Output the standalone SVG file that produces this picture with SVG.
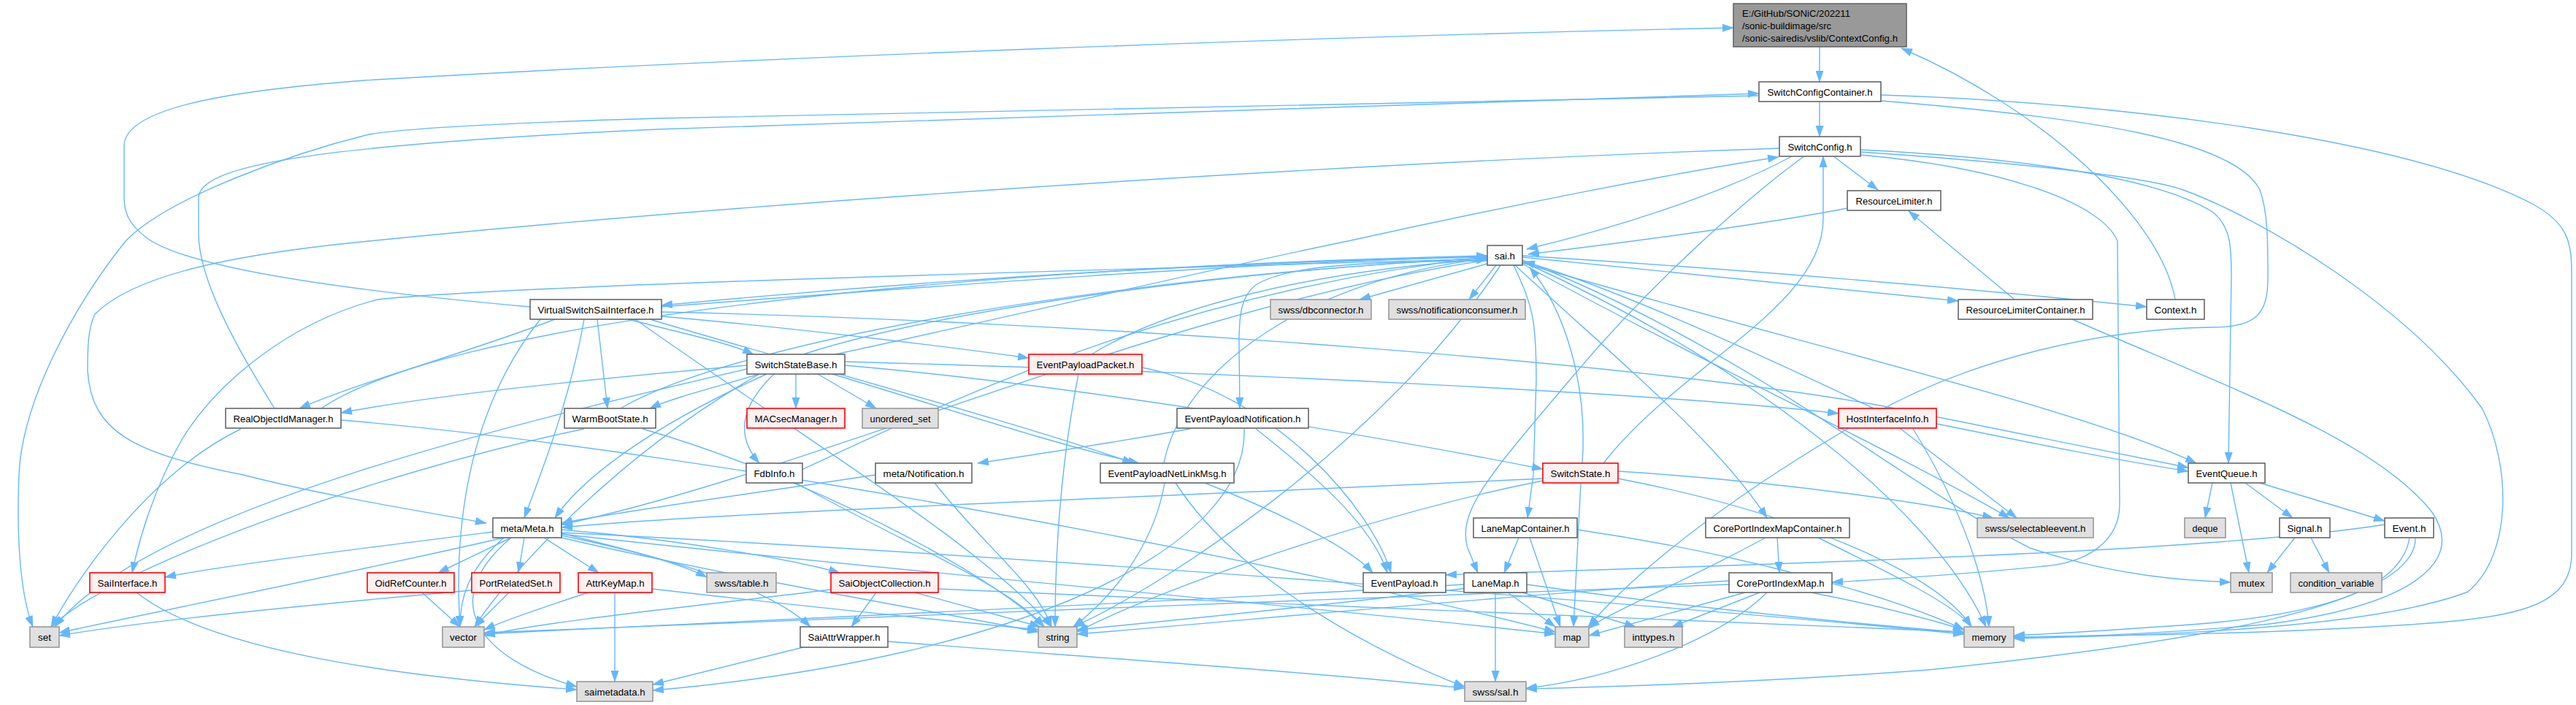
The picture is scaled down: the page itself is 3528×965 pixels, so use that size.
<svg xmlns="http://www.w3.org/2000/svg" width="3528" height="965" viewBox="0 0 3528 965">
<style>
.e{fill:none;stroke:#63b8ff;stroke-width:1.4;marker-end:url(#a)}
.w{fill:#fff;stroke:#666;stroke-width:1.6}
.g{fill:#e0e0e0;stroke:#999;stroke-width:1.6}
.r{fill:#fff0f0;stroke:#f00;stroke-width:1.6}
.k{fill:#999;stroke:#666;stroke-width:1.6}
text{font-family:"Liberation Sans",Arial,sans-serif;font-size:13.3px;fill:#000}
.m{text-anchor:middle}
</style>
<defs>
<marker id="a" markerWidth="16" markerHeight="11" refX="15" refY="5.5" orient="auto" markerUnits="userSpaceOnUse"><path d="M0,0 L16,5.5 L0,11 Z" fill="#63b8ff"/></marker>
</defs>
<rect width="3528" height="965" fill="#fff"/>
<g id="edges">
<path class="e" d="M2492,64 L2492,112"/>
<path class="e" d="M2492,139 L2492,187"/>
<path class="e" d="M2409,131 C1800,140 1200,155 900,162 C700,168 560,175 505,184 C400,210 230,270 172,330 C100,420 30,550 26,650 C22,750 30,820 45,858"/>
<path class="e" d="M2576,138 C2850,160 3060,190 3095,260 C3106,290 3106,330 3106,380 C3106,430 3090,448 3030,448 C2880,450 2700,490 2560,570 C2400,660 2250,770 2175,858"/>
<path class="e" d="M2576,130 C2900,140 3300,190 3470,280 C3515,305 3522,330 3522,370 L3522,760 C3520,830 3450,845 3300,855 C3100,868 2900,870 2758,872"/>
<path class="e" d="M2510,213 L2572,260"/>
<path class="e" d="M2456,213 C2350,270 2200,315 2091,341"/>
<path class="e" d="M2472,213 C2380,280 2250,400 2150,520 C2040,650 1995,700 2010,750 L2024,784"/>
<path class="e" d="M2548,205 C2750,215 2950,240 3030,290 C3056,310 3056,340 3056,380 L3052,634"/>
<path class="e" d="M2548,212 C2750,230 2880,280 2900,330 L2903,690 C2903,740 2860,770 2800,775 C2700,785 2600,792 2509,797"/>
<path class="e" d="M2548,208 C2800,225 2950,245 2990,260 C3100,300 3300,420 3400,560 C3440,640 3440,760 3380,810 C3250,860 2950,870 2758,874"/>
<path class="e" d="M2437,203 C1800,225 1000,280 505,330 C300,350 180,380 130,430 C120,450 120,480 120,507 C125,590 180,620 333,650 C450,680 580,700 666,716"/>
<path class="e" d="M2530,285 C2400,310 2200,335 2093,348"/>
<path class="e" d="M2759,410 L2614,289"/>
<path class="e" d="M2838,437 C3050,530 3250,600 3330,700 C3380,770 3300,830 3100,855 C2950,868 2830,872 2758,872"/>
<path class="e" d="M2979,410 C2960,300 2800,150 2604,66"/>
<path class="e" d="M726,420 C500,400 260,370 200,325 C175,305 170,290 170,270 L170,200 C170,150 300,125 500,110 C1000,80 1800,50 2374,38"/>
<path class="e" d="M376,559 C320,470 272,380 272,320 L272,270 C275,230 400,200 900,177 C1500,155 2100,135 2409,128"/>
<path class="e" d="M1144,485 C1400,430 1650,370 1846,330 C2050,285 2300,235 2436,215"/>
<path class="e" d="M2196,634 C2300,500 2497,420 2497,300 L2497,214"/>
<path class="e" d="M2167,634 C2175,520 2140,420 2095,366"/>
<path class="e" d="M2040,360 L1862,410"/>
<path class="e" d="M2049,363 L2012,410"/>
<path class="e" d="M2037,352 C1600,360 1200,390 906,418"/>
<path class="e" d="M2085,350 C2400,370 2700,395 2940,420"/>
<path class="e" d="M2085,352 C2300,375 2500,395 2682,412"/>
<path class="e" d="M2083,360 C2300,480 2600,620 2752,709"/>
<path class="e" d="M2075,363 C2200,480 2350,600 2420,709"/>
<path class="e" d="M2073,363 C2100,420 2104,440 2104,520 L2100,650 L2092,709"/>
<path class="e" d="M2037,357 C1850,358 1760,365 1720,390 C1700,405 1697,430 1697,470 L1698,559"/>
<path class="e" d="M2085,360 C2500,480 2850,560 3008,634"/>
<path class="e" d="M2037,356 C1600,420 1100,650 769,718"/>
<path class="e" d="M2037,354 C1500,370 700,390 517,410 C400,440 300,520 250,600 C210,670 190,740 181,784"/>
<path class="e" d="M2085,356 C2400,480 2600,660 2780,750 C2900,790 3000,795 3055,797"/>
<path class="e" d="M2055,363 C1900,600 1600,800 1470,858"/>
<path class="e" d="M2085,358 C2400,500 2650,700 2720,858"/>
<path class="e" d="M906,420 C1300,390 1700,360 2037,351"/>
<path class="e" d="M760,437 C650,480 500,520 410,559"/>
<path class="e" d="M818,437 L832,559"/>
<path class="e" d="M860,437 C950,460 1000,470 1032,485"/>
<path class="e" d="M906,433 C1100,450 1300,475 1409,490"/>
<path class="e" d="M890,437 C1100,500 1400,580 1552,634"/>
<path class="e" d="M800,437 C780,550 740,650 718,709"/>
<path class="e" d="M906,427 C1500,440 2300,500 2600,560 C2800,600 2900,620 2997,640"/>
<path class="e" d="M740,437 C650,550 620,700 630,858"/>
<path class="e" d="M870,437 C1100,600 1350,750 1440,858"/>
<path class="e" d="M1023,500 C800,520 600,540 467,565"/>
<path class="e" d="M1040,512 C980,530 920,545 890,559"/>
<path class="e" d="M1090,512 L1090,559"/>
<path class="e" d="M1120,512 L1200,559"/>
<path class="e" d="M1060,512 C1010,560 1010,600 1040,634"/>
<path class="e" d="M1140,512 C1300,560 1450,610 1560,634"/>
<path class="e" d="M1157,500 C1500,530 1900,600 2113,642"/>
<path class="e" d="M1157,495 C1700,510 2300,540 2518,566"/>
<path class="e" d="M1100,485 C1300,420 1700,370 2037,353"/>
<path class="e" d="M1050,512 C900,580 800,650 760,709"/>
<path class="e" d="M1040,512 C850,620 700,780 650,858"/>
<path class="e" d="M1023,505 C700,580 200,700 75,858"/>
<path class="e" d="M1495,485 C1600,420 1800,370 2037,355"/>
<path class="e" d="M1564,503 C1750,540 1880,700 1905,784"/>
<path class="e" d="M1477,512 C1450,650 1445,780 1445,858"/>
<path class="e" d="M1630,587 C1500,610 1400,625 1339,634"/>
<path class="e" d="M1720,587 C1800,650 1880,720 1900,784"/>
<path class="e" d="M1704,587 C1710,750 1400,900 894,945"/>
<path class="e" d="M1199,650 C1000,680 850,700 769,716"/>
<path class="e" d="M1280,661 C1350,750 1420,800 1440,858"/>
<path class="e" d="M1098,643 C1300,550 1600,400 2037,352"/>
<path class="e" d="M1090,661 C1250,750 1380,800 1430,858"/>
<path class="e" d="M1594,634 C1620,500 1800,380 2037,354"/>
<path class="e" d="M1650,661 C1750,700 1850,750 1880,784"/>
<path class="e" d="M1595,661 C1580,750 1520,820 1470,858"/>
<path class="e" d="M1610,661 C1700,800 1900,900 2006,940"/>
<path class="e" d="M2566,559 C2400,480 2200,390 2087,358"/>
<path class="e" d="M2652,580 C2800,610 2900,630 2997,645"/>
<path class="e" d="M2603,587 L2762,709"/>
<path class="e" d="M2620,587 C2690,700 2720,800 2724,858"/>
<path class="e" d="M2113,655 C1600,680 1000,700 769,722"/>
<path class="e" d="M2165,661 L2155,858"/>
<path class="e" d="M2113,658 C1900,700 1600,800 1475,865"/>
<path class="e" d="M2216,655 C2450,700 2650,780 2700,858"/>
<path class="e" d="M2216,645 C2450,660 2650,690 2730,709"/>
<path class="e" d="M3030,661 L3020,709"/>
<path class="e" d="M3055,661 L3080,784"/>
<path class="e" d="M3075,661 L3140,709"/>
<path class="e" d="M3095,661 L3266,713"/>
<path class="e" d="M3143,736 L3105,784"/>
<path class="e" d="M3165,736 L3190,784"/>
<path class="e" d="M3266,718 C3000,760 2300,775 1980,787"/>
<path class="e" d="M3300,736 C3290,800 3200,840 3000,855 C2900,862 2800,868 2758,870"/>
<path class="e" d="M3308,736 C3310,830 3000,880 2640,917 C2400,935 2200,940 2090,943"/>
<path class="e" d="M675,728 C500,750 300,775 226,790"/>
<path class="e" d="M700,736 L600,784"/>
<path class="e" d="M718,736 L710,784"/>
<path class="e" d="M745,736 L820,784"/>
<path class="e" d="M769,730 C850,750 930,770 968,790"/>
<path class="e" d="M769,725 C950,740 1100,770 1150,784"/>
<path class="e" d="M769,733 C900,760 1050,800 1110,858"/>
<path class="e" d="M690,736 C640,780 630,820 630,858"/>
<path class="e" d="M690,736 C500,780 200,840 81,866"/>
<path class="e" d="M769,736 C1000,790 1300,840 1422,865"/>
<path class="e" d="M769,731 C1200,780 1800,830 2130,868"/>
<path class="e" d="M769,729 C1400,760 2300,830 2690,868"/>
<path class="e" d="M700,736 C600,820 650,900 790,940"/>
<path class="e" d="M578,811 L630,858"/>
<path class="e" d="M697,811 L650,858"/>
<path class="e" d="M646,808 C400,830 200,850 81,870"/>
<path class="e" d="M805,811 C750,830 700,845 663,862"/>
<path class="e" d="M842,811 L842,933"/>
<path class="e" d="M893,806 C1100,830 1300,850 1422,862"/>
<path class="e" d="M1200,811 L1166,858"/>
<path class="e" d="M1253,811 L1425,858"/>
<path class="e" d="M1138,807 C950,830 750,850 663,870"/>
<path class="e" d="M1285,806 C1800,830 2400,850 2690,865"/>
<path class="e" d="M1216,878 C1500,900 1800,920 2006,942"/>
<path class="e" d="M1100,886 L894,937"/>
<path class="e" d="M187,811 C300,900 600,930 790,944"/>
<path class="e" d="M2080,736 L2060,784"/>
<path class="e" d="M2095,736 L2137,858"/>
<path class="e" d="M2160,725 C2400,760 2600,820 2690,862"/>
<path class="e" d="M2434,736 L2437,784"/>
<path class="e" d="M2418,736 C2300,800 2200,840 2176,860"/>
<path class="e" d="M2490,736 C2600,790 2680,830 2700,858"/>
<path class="e" d="M2065,811 L2130,858"/>
<path class="e" d="M2085,811 L2240,858"/>
<path class="e" d="M2048,811 L2048,933"/>
<path class="e" d="M2005,800 C1500,830 900,855 663,868"/>
<path class="e" d="M2010,805 C1800,830 1600,850 1475,862"/>
<path class="e" d="M2091,800 C2300,830 2500,850 2690,866"/>
<path class="e" d="M2390,811 L2176,870"/>
<path class="e" d="M2410,811 L2290,858"/>
<path class="e" d="M2420,811 C2350,880 2200,930 2090,942"/>
<path class="e" d="M2368,800 C1800,820 1100,850 663,866"/>
<path class="e" d="M2368,795 C2000,820 1700,850 1475,868"/>
<path class="e" d="M2480,811 C2580,830 2650,850 2690,862"/>
<path class="e" d="M440,559 C600,450 1200,370 2037,350"/>
<path class="e" d="M330,587 C200,650 100,800 70,858"/>
<path class="e" d="M467,575 C1000,620 1800,780 2130,865"/>
<path class="e" d="M850,559 C1000,470 1500,380 2037,353"/>
<path class="e" d="M800,587 C500,650 150,780 70,858"/>
<path class="e" d="M880,587 C1100,650 1350,780 1430,858"/>
</g>
<g id="n-ContextConfig"><rect class="k" x="2374" y="5" width="237" height="59"/><text x="2386" y="23" textLength="148" lengthAdjust="spacingAndGlyphs">E:/GitHub/SONiC/202211</text><text x="2386" y="40" textLength="122" lengthAdjust="spacingAndGlyphs">/sonic-buildimage/src</text><text x="2386" y="57" textLength="213" lengthAdjust="spacingAndGlyphs">/sonic-sairedis/vslib/ContextConfig.h</text></g>
<g id="n-SwitchConfigContainer"><rect class="w" x="2409" y="112" width="167" height="27"/><text class="m" x="2492.5" y="131" textLength="144" lengthAdjust="spacingAndGlyphs">SwitchConfigContainer.h</text></g>
<g id="n-SwitchConfig"><rect class="w" x="2437" y="187" width="111" height="27"/><text class="m" x="2492.5" y="206" textLength="88" lengthAdjust="spacingAndGlyphs">SwitchConfig.h</text></g>
<g id="n-ResourceLimiter"><rect class="w" x="2530" y="261" width="128" height="27"/><text class="m" x="2594" y="280" textLength="105" lengthAdjust="spacingAndGlyphs">ResourceLimiter.h</text></g>
<g id="n-sai"><rect class="w" x="2037" y="336" width="48" height="27"/><text class="m" x="2061" y="355" textLength="28" lengthAdjust="spacingAndGlyphs">sai.h</text></g>
<g id="n-dbconnector"><rect class="g" x="1740" y="410" width="138" height="27"/><text class="m" x="1809" y="429" textLength="117" lengthAdjust="spacingAndGlyphs">swss/dbconnector.h</text></g>
<g id="n-notificationconsumer"><rect class="g" x="1902" y="410" width="187" height="27"/><text class="m" x="1995.5" y="429" textLength="166" lengthAdjust="spacingAndGlyphs">swss/notificationconsumer.h</text></g>
<g id="n-ResourceLimiterContainer"><rect class="w" x="2682" y="410" width="184" height="27"/><text class="m" x="2774" y="429" textLength="163" lengthAdjust="spacingAndGlyphs">ResourceLimiterContainer.h</text></g>
<g id="n-Context"><rect class="w" x="2940" y="410" width="79" height="27"/><text class="m" x="2979.5" y="429" textLength="58" lengthAdjust="spacingAndGlyphs">Context.h</text></g>
<g id="n-VirtualSwitchSaiInterface"><rect class="w" x="726" y="410" width="180" height="27"/><text class="m" x="816" y="429" textLength="159" lengthAdjust="spacingAndGlyphs">VirtualSwitchSaiInterface.h</text></g>
<g id="n-SwitchStateBase"><rect class="w" x="1023" y="485" width="134" height="27"/><text class="m" x="1090" y="504" textLength="113" lengthAdjust="spacingAndGlyphs">SwitchStateBase.h</text></g>
<g id="n-EventPayloadPacket"><rect class="r" x="1409" y="485" width="155" height="27"/><text class="m" x="1486.5" y="504" textLength="134" lengthAdjust="spacingAndGlyphs">EventPayloadPacket.h</text></g>
<g id="n-RealObjectIdManager"><rect class="w" x="309" y="559" width="158" height="27"/><text class="m" x="388" y="578" textLength="137" lengthAdjust="spacingAndGlyphs">RealObjectIdManager.h</text></g>
<g id="n-WarmBootState"><rect class="w" x="773" y="559" width="125" height="27"/><text class="m" x="835.5" y="578" textLength="104" lengthAdjust="spacingAndGlyphs">WarmBootState.h</text></g>
<g id="n-MACsecManager"><rect class="r" x="1023" y="559" width="134" height="27"/><text class="m" x="1090" y="578" textLength="113" lengthAdjust="spacingAndGlyphs">MACsecManager.h</text></g>
<g id="n-unordered_set"><rect class="g" x="1181" y="559" width="104" height="27"/><text class="m" x="1233" y="578" textLength="83" lengthAdjust="spacingAndGlyphs">unordered_set</text></g>
<g id="n-EventPayloadNotification"><rect class="w" x="1612" y="559" width="180" height="27"/><text class="m" x="1702" y="578" textLength="159" lengthAdjust="spacingAndGlyphs">EventPayloadNotification.h</text></g>
<g id="n-HostInterfaceInfo"><rect class="r" x="2518" y="559" width="134" height="27"/><text class="m" x="2585" y="578" textLength="113" lengthAdjust="spacingAndGlyphs">HostInterfaceInfo.h</text></g>
<g id="n-FdbInfo"><rect class="w" x="1022" y="634" width="77" height="27"/><text class="m" x="1060.5" y="653" textLength="56" lengthAdjust="spacingAndGlyphs">FdbInfo.h</text></g>
<g id="n-metaNotification"><rect class="w" x="1199" y="634" width="132" height="27"/><text class="m" x="1265" y="653" textLength="111" lengthAdjust="spacingAndGlyphs">meta/Notification.h</text></g>
<g id="n-EventPayloadNetLinkMsg"><rect class="w" x="1507" y="634" width="183" height="27"/><text class="m" x="1598.5" y="653" textLength="162" lengthAdjust="spacingAndGlyphs">EventPayloadNetLinkMsg.h</text></g>
<g id="n-SwitchState"><rect class="r" x="2113" y="634" width="103" height="27"/><text class="m" x="2164.5" y="653" textLength="82" lengthAdjust="spacingAndGlyphs">SwitchState.h</text></g>
<g id="n-EventQueue"><rect class="w" x="2997" y="634" width="105" height="27"/><text class="m" x="3049.5" y="653" textLength="84" lengthAdjust="spacingAndGlyphs">EventQueue.h</text></g>
<g id="n-metaMeta"><rect class="w" x="675" y="709" width="94" height="27"/><text class="m" x="722" y="728" textLength="73" lengthAdjust="spacingAndGlyphs">meta/Meta.h</text></g>
<g id="n-selectableevent"><rect class="g" x="2708" y="709" width="159" height="27"/><text class="m" x="2787.5" y="728" textLength="138" lengthAdjust="spacingAndGlyphs">swss/selectableevent.h</text></g>
<g id="n-LaneMapContainer"><rect class="w" x="2018" y="709" width="142" height="27"/><text class="m" x="2089" y="728" textLength="121" lengthAdjust="spacingAndGlyphs">LaneMapContainer.h</text></g>
<g id="n-CorePortIndexMapContainer"><rect class="w" x="2336" y="709" width="197" height="27"/><text class="m" x="2434.5" y="728" textLength="176" lengthAdjust="spacingAndGlyphs">CorePortIndexMapContainer.h</text></g>
<g id="n-deque"><rect class="g" x="2992" y="709" width="56" height="27"/><text class="m" x="3020" y="728" textLength="35" lengthAdjust="spacingAndGlyphs">deque</text></g>
<g id="n-Signal"><rect class="w" x="3122" y="709" width="69" height="27"/><text class="m" x="3156.5" y="728" textLength="48" lengthAdjust="spacingAndGlyphs">Signal.h</text></g>
<g id="n-Event"><rect class="w" x="3266" y="709" width="67" height="27"/><text class="m" x="3299.5" y="728" textLength="46" lengthAdjust="spacingAndGlyphs">Event.h</text></g>
<g id="n-SaiInterface"><rect class="r" x="123" y="784" width="103" height="27"/><text class="m" x="174.5" y="803" textLength="82" lengthAdjust="spacingAndGlyphs">SaiInterface.h</text></g>
<g id="n-OidRefCounter"><rect class="r" x="503" y="784" width="119" height="27"/><text class="m" x="562.5" y="803" textLength="98" lengthAdjust="spacingAndGlyphs">OidRefCounter.h</text></g>
<g id="n-PortRelatedSet"><rect class="r" x="646" y="784" width="121" height="27"/><text class="m" x="706.5" y="803" textLength="100" lengthAdjust="spacingAndGlyphs">PortRelatedSet.h</text></g>
<g id="n-AttrKeyMap"><rect class="r" x="792" y="784" width="101" height="27"/><text class="m" x="842.5" y="803" textLength="80" lengthAdjust="spacingAndGlyphs">AttrKeyMap.h</text></g>
<g id="n-table"><rect class="g" x="968" y="784" width="95" height="27"/><text class="m" x="1015.5" y="803" textLength="74" lengthAdjust="spacingAndGlyphs">swss/table.h</text></g>
<g id="n-SaiObjectCollection"><rect class="r" x="1138" y="784" width="147" height="27"/><text class="m" x="1211.5" y="803" textLength="126" lengthAdjust="spacingAndGlyphs">SaiObjectCollection.h</text></g>
<g id="n-EventPayload"><rect class="w" x="1867" y="784" width="113" height="27"/><text class="m" x="1923.5" y="803" textLength="92" lengthAdjust="spacingAndGlyphs">EventPayload.h</text></g>
<g id="n-LaneMap"><rect class="w" x="2005" y="784" width="86" height="27"/><text class="m" x="2048" y="803" textLength="65" lengthAdjust="spacingAndGlyphs">LaneMap.h</text></g>
<g id="n-CorePortIndexMap"><rect class="w" x="2368" y="784" width="141" height="27"/><text class="m" x="2438.5" y="803" textLength="120" lengthAdjust="spacingAndGlyphs">CorePortIndexMap.h</text></g>
<g id="n-mutex"><rect class="g" x="3055" y="784" width="57" height="27"/><text class="m" x="3083.5" y="803" textLength="36" lengthAdjust="spacingAndGlyphs">mutex</text></g>
<g id="n-condition_variable"><rect class="g" x="3137" y="784" width="125" height="27"/><text class="m" x="3199.5" y="803" textLength="104" lengthAdjust="spacingAndGlyphs">condition_variable</text></g>
<g id="n-set"><rect class="g" x="41" y="858" width="40" height="28"/><text class="m" x="61" y="877" textLength="18" lengthAdjust="spacingAndGlyphs">set</text></g>
<g id="n-vector"><rect class="g" x="606" y="858" width="57" height="28"/><text class="m" x="634.5" y="877" textLength="37" lengthAdjust="spacingAndGlyphs">vector</text></g>
<g id="n-SaiAttrWrapper"><rect class="w" x="1096" y="858" width="120" height="28"/><text class="m" x="1156" y="877" textLength="99" lengthAdjust="spacingAndGlyphs">SaiAttrWrapper.h</text></g>
<g id="n-string"><rect class="g" x="1422" y="858" width="53" height="28"/><text class="m" x="1448.5" y="877" textLength="32" lengthAdjust="spacingAndGlyphs">string</text></g>
<g id="n-map"><rect class="g" x="2130" y="858" width="46" height="28"/><text class="m" x="2153" y="877" textLength="25" lengthAdjust="spacingAndGlyphs">map</text></g>
<g id="n-inttypes"><rect class="g" x="2225" y="858" width="79" height="28"/><text class="m" x="2264.5" y="877" textLength="58" lengthAdjust="spacingAndGlyphs">inttypes.h</text></g>
<g id="n-memory"><rect class="g" x="2690" y="858" width="68" height="28"/><text class="m" x="2724" y="877" textLength="47" lengthAdjust="spacingAndGlyphs">memory</text></g>
<g id="n-saimetadata"><rect class="g" x="790" y="933" width="104" height="27"/><text class="m" x="842" y="952" textLength="83" lengthAdjust="spacingAndGlyphs">saimetadata.h</text></g>
<g id="n-swsssal"><rect class="g" x="2006" y="933" width="84" height="27"/><text class="m" x="2048" y="952" textLength="63" lengthAdjust="spacingAndGlyphs">swss/sal.h</text></g>
</svg>
